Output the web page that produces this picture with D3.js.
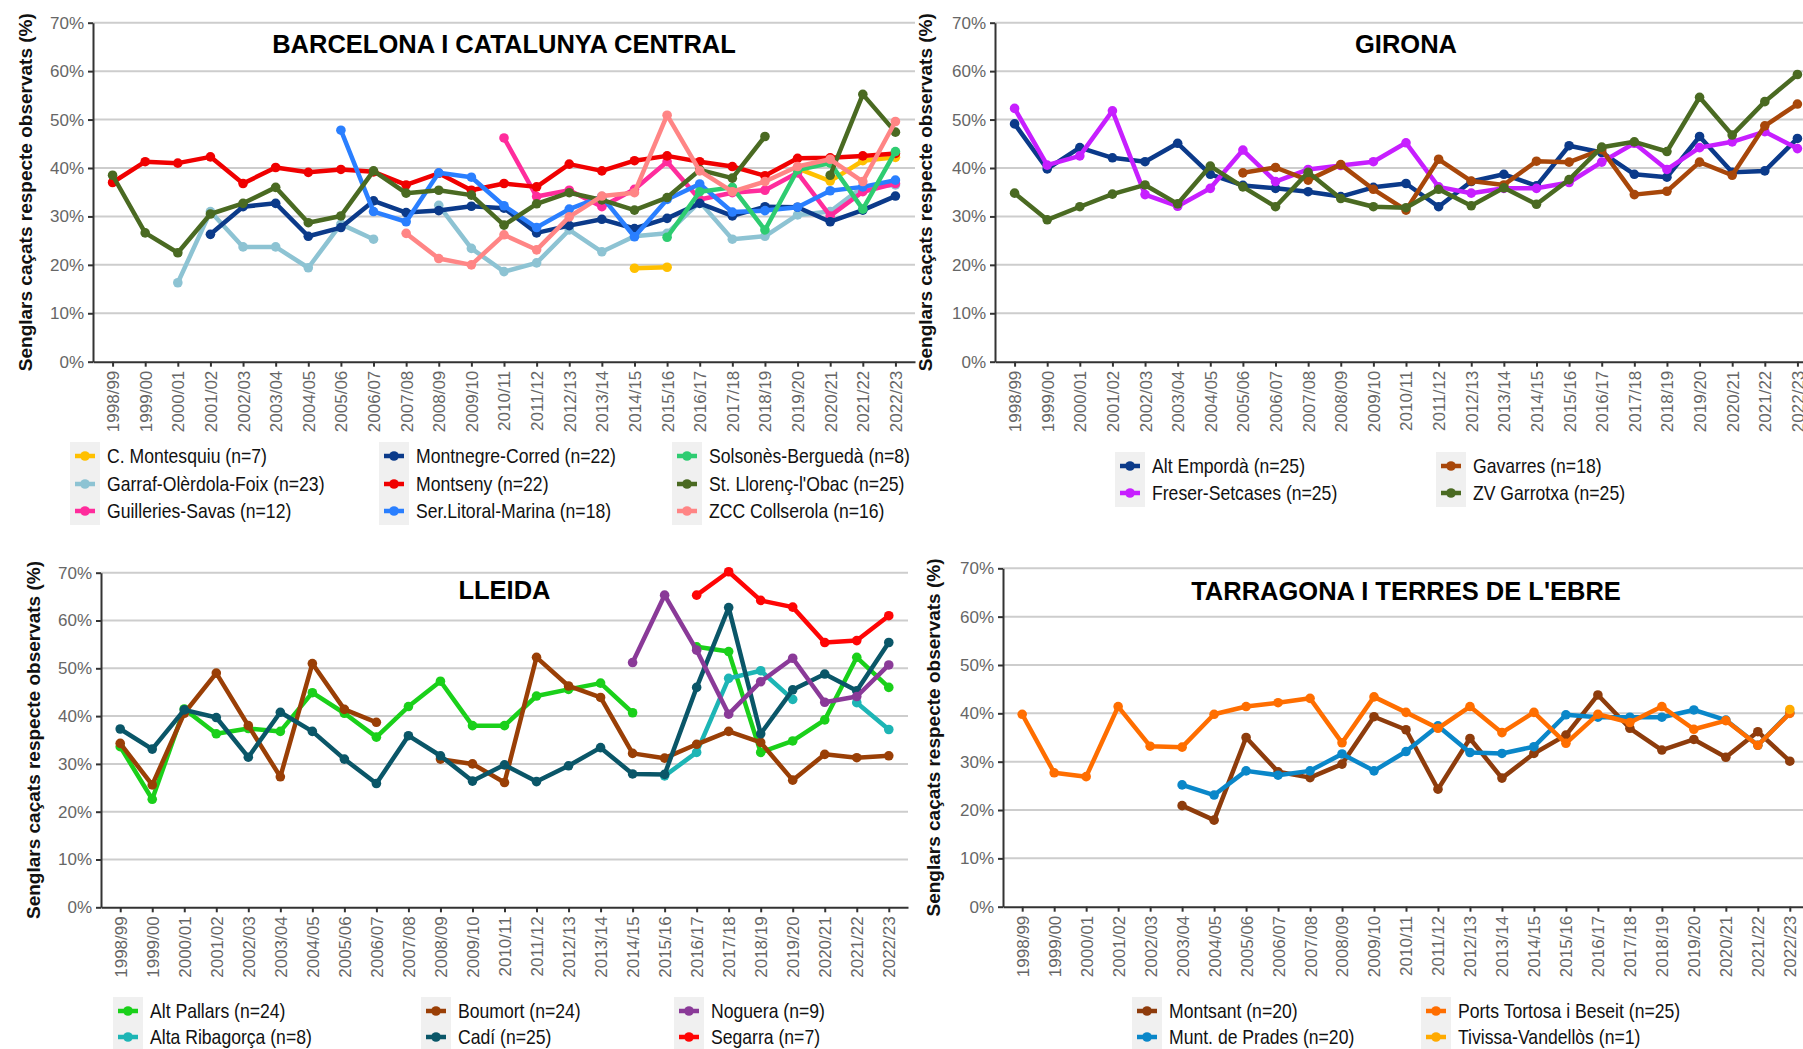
<!DOCTYPE html>
<html>
<head>
<meta charset="utf-8">
<script src="https://cdn.jsdelivr.net/npm/d3@7"></script>
<style>
  body { margin: 0; background: #fff; }
  svg { display: block; font-family: "Liberation Sans", Arial, sans-serif; }
</style>
</head>
<body>
<svg id="chart" width="1803" height="1049"></svg>
<script>
const N = null;
const seasons = ["1998/99","1999/00","2000/01","2001/02","2002/03","2003/04","2004/05","2005/06","2006/07","2007/08","2008/09","2009/10","2010/11","2011/12","2012/13","2013/14","2014/15","2015/16","2016/17","2017/18","2018/19","2019/20","2020/21","2021/22","2022/23"];
const yTicks = [0, 10, 20, 30, 40, 50, 60, 70];

// Barcelona i Catalunya Central
const bcnNames = ["C. Montesquiu (n=7)", "Garraf-Olèrdola-Foix (n=23)", "Guilleries-Savas (n=12)", "Montnegre-Corred (n=22)", "Montseny (n=22)", "Ser.Litoral-Marina (n=18)", "Solsonès-Berguedà (n=8)", "St. Llorenç-l'Obac (n=25)", "ZCC Collserola (n=16)"];
const bcnColors = ["#ffc000", "#8dc3d3", "#ff2c9c", "#0b3a8a", "#f00000", "#2a7fff", "#2ecc71", "#4a6a22", "#ff8585"];
const cMontesquiu = [N,N,N,N,N,N,N,N,N,N,N,N,N,N,N,N, 19.3, 19.5, N, N, N, 39.9, 37.3, 41.5, 42.2];
const garraf = [N, N, 16.3, 31.0, 23.7, 23.7, 19.4, 28.4, 25.3, N, 32.3, 23.4, 18.6, 20.4, 27.2, 22.7, 25.9, 26.5, 33.0, 25.3, 25.9, 30.3, 31.0, 36.1, 36.5];
const guilleries = [N,N,N,N,N,N,N,N,N,N,N,N, 46.2, 34.1, 35.4, 32.0, 35.6, 41.3, 33.5, 34.9, 35.4, 39.0, 30.1, 35.1, 36.8];
const montnegre = [N, N, N, 26.3, 32.0, 32.7, 25.9, 27.7, 33.2, 30.8, 31.2, 32.1, 31.7, 26.6, 28.1, 29.4, 27.5, 29.6, 32.7, 30.1, 32.0, 31.9, 28.9, 31.3, 34.2];
const montseny = [37.0, 41.3, 41.0, 42.3, 36.8, 40.1, 39.1, 39.7, 39.2, 36.5, 38.9, 35.4, 36.8, 36.1, 40.8, 39.4, 41.5, 42.5, 41.3, 40.3, 38.4, 42.0, 42.1, 42.5, 43.0];
const serLitoral = [N,N,N,N,N,N,N, 47.8, 31.0, 28.9, 39.0, 38.1, 32.2, 27.7, 31.5, 34.1, 25.8, 33.5, 36.7, 30.9, 31.2, 31.9, 35.3, 36.1, 37.5];
const solsones = [N,N,N,N,N,N,N,N,N,N,N,N,N,N,N,N,N, 25.7, 35.1, 36.0, 27.2, 39.6, 41.0, 31.5, 43.4];
const stLlorenc = [38.5, 26.6, 22.5, 30.5, 32.7, 36.0, 28.7, 30.1, 39.4, 34.8, 35.4, 34.4, 28.2, 32.6, 34.9, 33.4, 31.3, 33.9, 39.6, 37.9, 46.5, N, 38.5, 55.2, 47.4];
const zccCollserola = [N,N,N,N,N,N,N,N,N, 26.5, 21.3, 20.0, 26.2, 23.1, 29.9, 34.2, 34.9, 50.9, 39.4, 35.1, 37.2, 40.3, 41.8, 37.2, 49.6];

// Girona
const gironaNames = ["Alt Empordà (n=25)", "Freser-Setcases (n=25)", "Gavarres (n=18)", "ZV Garrotxa (n=25)"];
const gironaColors = ["#0b3a8a", "#c71fff", "#a8470a", "#4a6a22"];
const altEmporda = [49.1, 39.8, 44.2, 42.1, 41.3, 45.1, 38.7, 36.4, 35.8, 35.1, 34.1, 36.0, 36.8, 32.0, 37.2, 38.7, 36.3, 44.6, 43.2, 38.7, 38.1, 46.5, 39.1, 39.4, 46.1];
const freser = [52.3, 40.6, 42.5, 51.8, 34.5, 32.1, 35.8, 43.7, 37.2, 39.7, 40.5, 41.3, 45.2, 36.1, 34.8, 35.8, 35.8, 37.0, 41.2, 45.1, 39.7, 44.2, 45.4, 47.5, 44.0];
const gavarres = [N,N,N,N,N,N,N, 39.0, 40.1, 37.5, 40.7, 35.6, 31.3, 41.8, 37.3, 36.5, 41.4, 41.2, 43.8, 34.5, 35.2, 41.2, 38.5, 48.7, 53.2];
const zvGarrotxa = [34.8, 29.3, 32.0, 34.6, 36.5, 32.6, 40.4, 36.1, 32.0, 39.1, 33.7, 32.0, 31.8, 35.6, 32.2, 35.9, 32.5, 37.6, 44.3, 45.4, 43.4, 54.6, 46.8, 53.7, 59.3];

// Lleida
const lleidaNames = ["Alt Pallars (n=24)", "Alta Ribagorça (n=8)", "Boumort (n=24)", "Cadí (n=25)", "Noguera (n=9)", "Segarra (n=7)"];
const lleidaColors = ["#1ad01a", "#1db5b5", "#9a3f06", "#0a5668", "#8a3a98", "#ff0505"];
const altPallars = [33.6, 22.6, 41.5, 36.3, 37.4, 36.8, 44.9, 40.6, 35.6, 42.0, 47.3, 38.0, 38.0, 44.2, 45.6, 46.9, 40.7, N, 54.5, 53.5, 32.4, 34.8, 39.2, 52.3, 46.0];
const altaRibagorca = [N,N,N,N,N,N,N,N,N,N,N,N,N,N,N,N,N, 27.5, 32.4, 47.9, 49.5, 43.5, N, 42.8, 37.2];
const boumort = [34.3, 25.6, 40.6, 49.0, 38.0, 27.3, 51.0, 41.4, 38.7, N, 31.0, 30.0, 26.1, 52.3, 46.3, 43.9, 32.2, 31.2, 34.1, 36.8, 34.5, 26.6, 32.0, 31.3, 31.7];
const cadi = [37.3, 33.1, 41.3, 39.7, 31.4, 40.8, 36.8, 31.0, 25.9, 35.9, 31.7, 26.4, 29.8, 26.3, 29.6, 33.4, 27.9, 27.8, 46.0, 62.7, 36.3, 45.5, 48.8, 45.3, 55.4];
const noguera = [N,N,N,N,N,N,N,N,N,N,N,N,N,N,N,N, 51.2, 65.3, 53.8, 40.4, 47.2, 52.1, 42.9, 44.1, 50.7];
const segarra = [N,N,N,N,N,N,N,N,N,N,N,N,N,N,N,N,N,N, 65.3, 70.2, 64.2, 62.8, 55.4, 55.8, 61.0];

// Tarragona i Terres de l'Ebre
const tgnNames = ["Montsant (n=20)", "Munt. de Prades (n=20)", "Ports Tortosa i Beseit (n=25)", "Tivissa-Vandellòs (n=1)"];
const tgnColors = ["#8e3c0c", "#0a87c9", "#ff6e00", "#ffaa00"];
const montsant = [N,N,N,N,N, 20.9, 17.9, 35.0, 27.9, 26.7, 29.5, 39.3, 36.6, 24.3, 34.8, 26.6, 31.7, 35.5, 43.8, 36.9, 32.4, 34.6, 30.9, 36.2, 30.1];
const muntPrades = [N,N,N,N,N, 25.2, 23.1, 28.1, 27.2, 28.1, 31.6, 28.1, 32.1, 37.4, 31.9, 31.7, 33.1, 39.7, 39.2, 39.2, 39.2, 40.7, 38.6, 33.4, 40.1];
const portsTortosa = [39.8, 27.7, 26.9, 41.4, 33.2, 33.0, 39.8, 41.4, 42.2, 43.1, 33.9, 43.4, 40.2, 36.9, 41.4, 36.0, 40.2, 33.8, 39.8, 38.1, 41.4, 36.7, 38.5, 33.4, 40.0];
const tivissa = [N,N,N,N,N,N,N,N,N,N,N,N,N,N,N,N,N,N,N,N,N,N,N,N, 40.8];

const panels = [
  { title: "BARCELONA I CATALUNYA CENTRAL", names: bcnNames, colors: bcnColors,
    series: [cMontesquiu, garraf, guilleries, montnegre, montseny, serLitoral, solsones, stLlorenc, zccCollserola],
    left: 93, right: 915, top: 22.7, bottom: 361.7, titleY: 53, yTitleX: 25,
    legCols: [70, 379, 672], legRows: [456, 484, 511] },
  { title: "GIRONA", names: gironaNames, colors: gironaColors,
    series: [altEmporda, freser, gavarres, zvGarrotxa],
    left: 995, right: 1817, top: 22.7, bottom: 361.7, titleY: 53, yTitleX: 925,
    legCols: [1115, 1436], legRows: [466, 493] },
  { title: "LLEIDA", names: lleidaNames, colors: lleidaColors,
    series: [altPallars, altaRibagorca, boumort, cadi, noguera, segarra],
    left: 101, right: 908, top: 572.7, bottom: 907.3, titleY: 599, yTitleX: 33,
    legCols: [113, 421, 674], legRows: [1011, 1037] },
  { title: "TARRAGONA I TERRES DE L'EBRE", names: tgnNames, colors: tgnColors,
    series: [montsant, muntPrades, portsTortosa, tivissa],
    left: 1003, right: 1809, top: 568.3, bottom: 906.7, titleY: 600, yTitleX: 933,
    legCols: [1132, 1421], legRows: [1011, 1037] }
];

const svg = d3.select("#chart");
svg.append("rect").attr("width", 1803).attr("height", 1049).attr("fill", "#fff");

panels.forEach(drawPanel);

function drawPanel(p) {
  const g = svg.append("g");
  const x = d3.scalePoint().domain(seasons).range([p.left, p.right]).padding(0.6);
  const y = d3.scaleLinear().domain([0, 70]).range([p.bottom, p.top]);

  // gridlines
  g.append("g").selectAll("line")
    .data(yTicks.slice(1))
    .join("line")
    .attr("x1", p.left).attr("x2", p.right)
    .attr("y1", d => y(d)).attr("y2", d => y(d))
    .attr("stroke", "#cdcdcd").attr("stroke-width", 2);

  // y axis
  const ya = g.append("g")
    .attr("transform", `translate(${p.left},0)`)
    .call(d3.axisLeft(y).tickValues(yTicks).tickFormat(d => d + "%").tickSize(5).tickSizeOuter(0))
    .attr("font-size", null).attr("font-family", null);
  ya.select(".domain").attr("stroke", "#333").attr("stroke-width", 2);
  ya.selectAll(".tick line").attr("stroke", "#333").attr("stroke-width", 2);
  ya.selectAll(".tick text").attr("fill", "#666").attr("font-size", 17).attr("x", -9);

  // x axis
  const xa = g.append("g")
    .attr("transform", `translate(0,${p.bottom})`)
    .call(d3.axisBottom(x).tickSize(5).tickSizeOuter(0))
    .attr("font-size", null).attr("font-family", null);
  xa.select(".domain").attr("stroke", "#333").attr("stroke-width", 2);
  xa.selectAll(".tick line").attr("stroke", "#333").attr("stroke-width", 2);
  xa.selectAll(".tick text")
    .attr("fill", "#666").attr("font-size", 17)
    .attr("transform", "rotate(-90)")
    .attr("text-anchor", "end")
    .attr("x", -9).attr("y", 0).attr("dy", "0.35em");

  // titles
  g.append("text")
    .attr("x", (p.left + p.right) / 2).attr("y", p.titleY)
    .attr("text-anchor", "middle")
    .attr("font-size", 25.5).attr("font-weight", "bold").attr("fill", "#000")
    .text(p.title);

  g.append("text")
    .attr("transform", `translate(${p.yTitleX},${(p.top + p.bottom) / 2}) rotate(-90)`)
    .attr("text-anchor", "middle").attr("dominant-baseline", "central")
    .attr("font-size", 19).attr("font-weight", "bold").attr("fill", "#111")
    .text("Senglars caçats respecte observats (%)");

  // lines and points
  const line = d3.line()
    .defined(d => d != null)
    .x((d, i) => x(seasons[i]))
    .y(d => y(d));

  p.series.forEach((vals, k) => {
    const col = p.colors[k];
    g.append("path")
      .datum(vals)
      .attr("d", line)
      .attr("fill", "none")
      .attr("stroke", col)
      .attr("stroke-width", 4.5)
      .attr("stroke-linejoin", "round");
    g.append("g").selectAll("circle")
      .data(vals.map((v, i) => ({ v, i })).filter(d => d.v != null))
      .join("circle")
      .attr("cx", d => x(seasons[d.i]))
      .attr("cy", d => y(d.v))
      .attr("r", 4.8)
      .attr("fill", col);
  });

  // legend
  const nRows = p.legRows.length;
  const leg = g.append("g");
  p.legCols.forEach(cx => {
    leg.append("rect")
      .attr("x", cx).attr("y", p.legRows[0] - 14)
      .attr("width", 30).attr("height", p.legRows[nRows - 1] - p.legRows[0] + 28)
      .attr("fill", "#f0f0f0");
  });
  p.names.forEach((name, k) => {
    const bx = p.legCols[Math.floor(k / nRows)];
    const ry = p.legRows[k % nRows];
    leg.append("line")
      .attr("x1", bx + 5).attr("x2", bx + 25)
      .attr("y1", ry).attr("y2", ry)
      .attr("stroke", p.colors[k]).attr("stroke-width", 4.5);
    leg.append("circle")
      .attr("cx", bx + 15).attr("cy", ry).attr("r", 4.8)
      .attr("fill", p.colors[k]);
    // condensed look of the original legend font
    leg.append("text")
      .attr("transform", `translate(${bx + 37},${ry}) scale(0.88,1)`)
      .attr("dominant-baseline", "central")
      .attr("font-size", 20).attr("fill", "#111")
      .text(name);
  });
}
</script>
</body>
</html>
